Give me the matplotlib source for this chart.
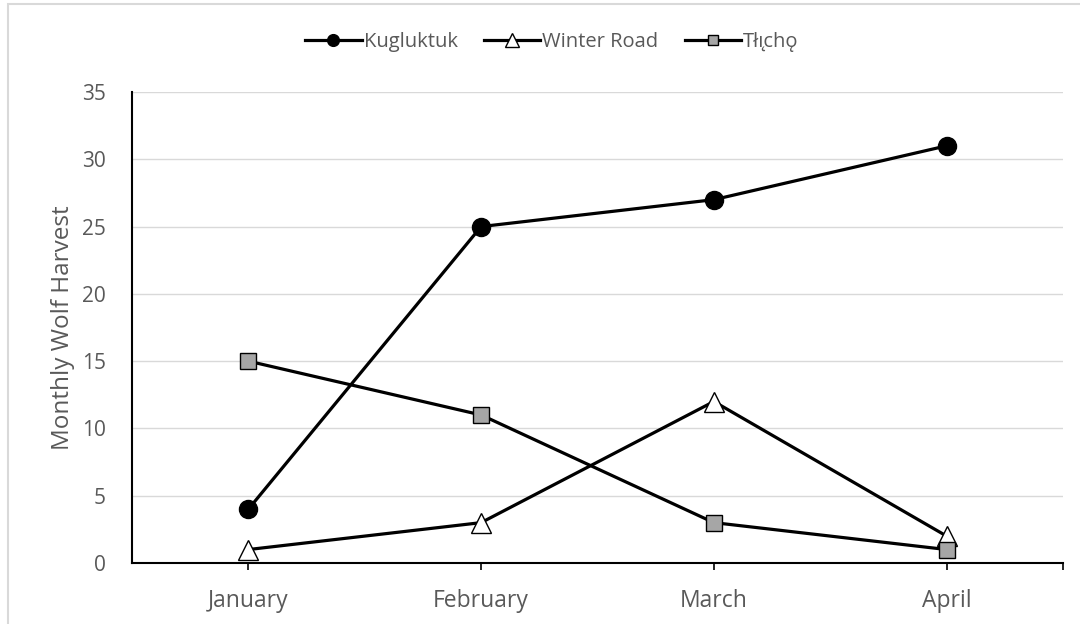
import matplotlib
matplotlib.use("Agg")
import matplotlib.pyplot as plt
from matplotlib.patches import Rectangle

plt.rcParams['font.family'] = ['Open Sans', 'DejaVu Sans']

months = ["January", "February", "March", "April"]
kugluktuk = [4, 25, 27, 31]
winter_road = [1, 3, 12, 2]
tlicho = [15, 11, 3, 1]
yticks = [0, 5, 10, 15, 20, 25, 30, 35]

txt = '#595959'
fig = plt.figure(figsize=(10.8, 6.24), dpi=100)
ax = fig.add_axes([132/1080, 1-563/624, (1063-132)/1080, (563-92)/624])

x = [i + 0.5 for i in range(len(months))]
ax.plot(x, kugluktuk, color='black', lw=2.3, marker='o', ms=13,
        mfc='black', mec='black', label='Kugluktuk', zorder=3)
ax.plot(x, winter_road, color='black', lw=2.3, marker='^', ms=14.5,
        mfc='white', mec='black', mew=1.0, label='Winter Road', zorder=3)
ax.plot(x, tlicho, color='black', lw=2.3, marker='s', ms=12,
        mfc='#a6a6a6', mec='black', mew=1.0, label='Tłı̨chǫ', zorder=3)

ax.set_xlim(0, 4)
ax.set_ylim(0, 35)
ax.set_yticks(yticks)
ax.set_yticklabels([str(v) for v in yticks])
ax.set_xticks(x + [4])
ax.set_xticklabels(months + [''], fontsize=16.5, color=txt)
ax.tick_params(axis='x', length=5, direction='out', color='black', width=1.2, pad=14)
ax.tick_params(axis='y', length=0, labelsize=15, labelcolor=txt, pad=19)
ax.grid(axis='y', color='#d9d9d9', lw=1.0)
ax.set_axisbelow(True)
for s in ['top', 'right']:
    ax.spines[s].set_visible(False)
ax.spines['left'].set_color('black')
ax.spines['left'].set_linewidth(1.5)
ax.spines['bottom'].set_color('black')
ax.spines['bottom'].set_linewidth(1.5)
ax.set_ylabel('Monthly Wolf Harvest', fontsize=17.5, color=txt, labelpad=5)

leg = fig.legend(loc='center', bbox_to_anchor=(0.511, 1-42/624), ncol=3, frameon=False,
                 fontsize=14.5, handlelength=2.8, columnspacing=1.3, handletextpad=0.1,
                 markerscale=0.65)
for t in leg.get_texts():
    t.set_color(txt)

fig.patches.append(Rectangle((8/1080, -0.01), 1.02, 1.01 - 10/624 + 0.01, transform=fig.transFigure,
                             fill=False, edgecolor='#d9d9d9', lw=1.5))

fig.savefig('out.png', dpi=100, facecolor='white')
